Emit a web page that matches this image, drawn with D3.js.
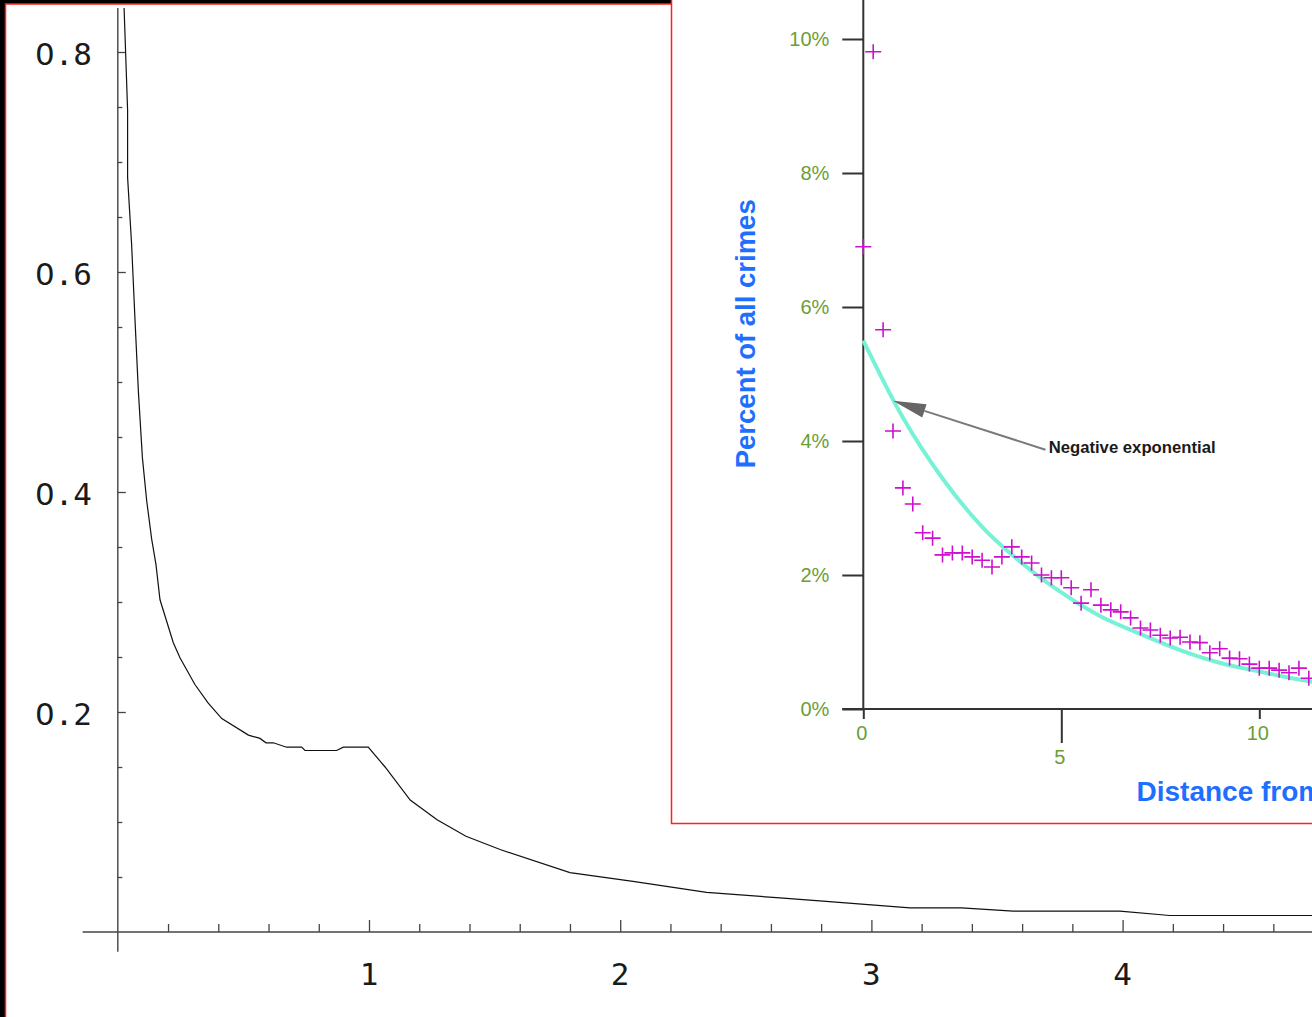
<!DOCTYPE html>
<html><head><meta charset="utf-8">
<script src="https://cdn.jsdelivr.net/npm/d3@7"></script>
<style>html,body{margin:0;padding:0;background:#000;overflow:hidden}</style>
</head><body>
<svg id="c" width="1312" height="1017"></svg>
<script>
// ---- main chart data ----
const mainDistance = [0.025,0.039,0.039,0.055,0.069,0.082,0.098,0.115,0.135,0.152,0.168,0.221,0.248,0.307,0.360,0.414,0.520,0.566,0.590,0.619,0.672,0.732,0.745,0.871,0.898,0.997,1.064,1.164,1.271,1.386,1.522,1.800,2.051,2.344,2.636,2.807,3.154,3.359,3.564,3.989,4.188,4.717,4.950];
const mainShare = [0.840,0.747,0.686,0.625,0.554,0.491,0.431,0.392,0.357,0.334,0.302,0.263,0.249,0.225,0.208,0.194,0.179,0.176,0.172,0.172,0.168,0.168,0.165,0.165,0.168,0.168,0.150,0.120,0.102,0.087,0.075,0.054,0.046,0.036,0.031,0.028,0.022,0.022,0.019,0.019,0.015,0.015,0.015];
const mainXTicks = [1,2,3,4];
const mainYTicks = [0.2,0.4,0.6,0.8];

// ---- inset chart data ----
const crimeDistance = [0,0.25,0.5,0.75,1,1.25,1.5,1.75,2,2.25,2.5,2.75,3,3.25,3.5,3.75,4,4.25,4.5,4.75,5,5.25,5.5,5.75,6,6.25,6.5,6.75,7,7.25,7.5,7.75,8,8.25,8.5,8.75,9,9.25,9.5,9.75,10,10.25,10.5,10.75,11,11.25];
const crimePercent = [6.90,9.81,5.66,4.15,3.30,3.06,2.63,2.55,2.30,2.33,2.33,2.27,2.22,2.12,2.27,2.42,2.27,2.18,2.00,1.96,1.96,1.81,1.58,1.78,1.55,1.48,1.45,1.36,1.21,1.18,1.10,1.06,1.07,1.00,0.99,0.84,0.90,0.76,0.75,0.67,0.61,0.61,0.58,0.54,0.61,0.46];
const fitDistance = [0,1,2,3,4,5,6,7,8,9,10,11,12];
const fitPercent = [5.50,4.35,3.44,2.72,2.18,1.74,1.38,1.12,0.88,0.69,0.56,0.44,0.35];
const insetYTicks = [0,2,4,6,8,10];
const insetXTicksEven = [0,10];
const insetXTicksOdd = [5];
const yTitle = "Percent of all crimes";
const xTitle = "Distance from";
const annotation = "Negative exponential";

const svg = d3.select('#c');
svg.append('rect').attr('width',1312).attr('height',1017).attr('fill','#000');

// ---- main panel ----
svg.append('rect').attr('x',5.5).attr('y',4).attr('width',1500).attr('height',1200)
  .attr('fill','#fff').attr('stroke','#ff2020').attr('stroke-width',1.5);

const xS = d3.scaleLinear().domain([0,5]).range([117.8,117.8+5*251.2]);
const yS = d3.scaleLinear().domain([0,0.8]).range([932,52]);
const axisCol = '#444';
const mainFont = '"DejaVu Sans Mono", monospace';
const zeroFont = '"DejaVu Sans", sans-serif';

const g = svg.append('g');
g.append('line').attr('x1',xS(0)).attr('x2',xS(0)).attr('y1',yS(0.84)).attr('y2',yS(-0.018))
  .attr('stroke',axisCol).attr('stroke-width',1.4);
g.append('line').attr('x1',xS(-0.14)).attr('x2',xS(5.3)).attr('y1',yS(0)).attr('y2',yS(0))
  .attr('stroke',axisCol).attr('stroke-width',1.4);

const yMinor = d3.range(1,17).map(i=>i*0.05).filter(v=>Math.abs(v*5-Math.round(v*5))>1e-6);
const xMinor = d3.range(1,26).map(i=>i*0.2).filter(v=>Math.abs(v-Math.round(v))>1e-6);

function styleAxis(sel){
  sel.select('.domain').remove();
  sel.selectAll('.tick line').attr('stroke',axisCol).attr('stroke-width',1.3);
  sel.selectAll('text').remove();
}
g.append('g').attr('transform',`translate(${xS(0)},0)`)
  .call(d3.axisRight(yS).tickValues(yMinor).tickSize(4.5)).call(styleAxis);
g.append('g').attr('transform',`translate(${xS(0)},0)`)
  .call(d3.axisRight(yS).tickValues(mainYTicks).tickSize(8)).call(styleAxis);
g.append('g').attr('transform',`translate(0,${yS(0)})`)
  .call(d3.axisTop(xS).tickValues(xMinor).tickSize(8)).call(styleAxis);
g.append('g').attr('transform',`translate(0,${yS(0)})`)
  .call(d3.axisTop(xS).tickValues(mainXTicks.concat([5])).tickSize(12)).call(styleAxis);

g.selectAll('text.yl').data(mainYTicks).join('text').attr('class','yl')
  .attr('x',92).attr('y',d=>yS(d)+13).attr('text-anchor','end')
  .attr('font-family',mainFont).attr('font-size',31).attr('fill','#1a1a1a')
  .each(function(d){
    const t = d3.select(this);
    for (const ch of d.toFixed(1)) {
      t.append('tspan').attr('font-family', ch==='0' ? zeroFont : mainFont).text(ch);
    }
  });
g.selectAll('text.xl').data(mainXTicks).join('text').attr('class','xl')
  .attr('x',d=>xS(d)).attr('y',985).attr('text-anchor','middle')
  .attr('font-family',mainFont).attr('font-size',31).attr('fill','#1a1a1a')
  .text(d=>d);

g.append('path').datum(d3.zip(mainDistance,mainShare))
  .attr('d',d3.line().x(d=>xS(d[0])).y(d=>yS(d[1])))
  .attr('fill','none').attr('stroke','#111').attr('stroke-width',1.2);

// ---- inset ----
svg.append('rect').attr('x',671.5).attr('y',-20).attr('width',800).attr('height',843.5)
  .attr('fill','#fff').attr('stroke','#ff2020').attr('stroke-width',1.5);

const xI = d3.scaleLinear().domain([0,15]).range([863.3,863.3+15*39.6]);
const yI = d3.scaleLinear().domain([0,10]).range([709,39]);
const green = '#6a9e36', blue = '#1f6fff', sans = '"Liberation Sans", Arial, sans-serif';
const ig = svg.append('g');

ig.append('line').attr('x1',xI(0)).attr('x2',xI(0)).attr('y1',yI(0)).attr('y2',yI(12))
  .attr('stroke','#333').attr('stroke-width',2);
ig.append('line').attr('x1',xI(0)-21).attr('x2',xI(15)).attr('y1',yI(0)).attr('y2',yI(0))
  .attr('stroke','#333').attr('stroke-width',2);

function styleInset(sel){
  sel.select('.domain').remove();
  sel.selectAll('.tick line').attr('stroke','#333').attr('stroke-width',2);
  sel.selectAll('.tick text').attr('fill',green).attr('font-family',sans).attr('font-size',20);
}
ig.append('g').attr('transform',`translate(${xI(0)},0)`)
  .call(d3.axisLeft(yI).tickValues(insetYTicks).tickSize(21).tickPadding(11).tickFormat(d=>d+'%'))
  .call(styleInset);
ig.append('g').attr('transform',`translate(0,${yI(0)})`)
  .call(d3.axisBottom(xI).tickValues(insetXTicksEven).tickSize(10).tickPadding(7).tickFormat(d=>d))
  .call(styleInset);
ig.append('g').attr('transform',`translate(0,${yI(0)})`)
  .call(d3.axisBottom(xI).tickValues(insetXTicksOdd).tickSize(34).tickPadding(7).tickFormat(d=>d))
  .call(styleInset);
ig.selectAll('.tick text').attr('dx',-2);

ig.append('path').datum(d3.zip(fitDistance,fitPercent))
  .attr('d',d3.line().curve(d3.curveMonotoneX).x(d=>xI(d[0])).y(d=>yI(d[1])))
  .attr('fill','none').attr('stroke','#78f2d6').attr('stroke-width',4);

ig.selectAll('path.pt').data(d3.zip(crimeDistance,crimePercent)).join('path').attr('class','pt')
  .attr('d',d=>{const x=xI(d[0]), y=yI(d[1]); return `M${x-8},${y}H${x+8}M${x},${y-7.5}V${y+7.5}`;})
  .attr('stroke','#cc11cc').attr('stroke-width',1.6).attr('fill','none');

ig.append('text').attr('transform',`translate(755,${yI(5.6)}) rotate(-90)`)
  .attr('text-anchor','middle').attr('font-family',sans).attr('font-weight','bold')
  .attr('font-size',27.5).attr('fill',blue).text(yTitle);
ig.append('text').attr('x',xI(6.9)).attr('y',801)
  .attr('font-family',sans).attr('font-weight','bold')
  .attr('font-size',28).attr('fill',blue).text(xTitle);

const tip = [xI(0.75), yI(4.6)];
const tail = [xI(4.6), yI(3.87)];
const dx = tail[0]-tip[0], dy = tail[1]-tip[1], L = Math.hypot(dx,dy);
const ux = dx/L, uy = dy/L, hl = 33, hw = 7;
const bx = tip[0]+ux*hl, by = tip[1]+uy*hl;
ig.append('line').attr('x1',bx).attr('y1',by).attr('x2',tail[0]).attr('y2',tail[1])
  .attr('stroke','#7a7a7a').attr('stroke-width',2);
ig.append('path')
  .attr('d',`M${tip[0]},${tip[1]}L${bx-uy*hw},${by+ux*hw}L${bx+uy*hw},${by-ux*hw}Z`)
  .attr('fill','#666');
ig.append('text').attr('x',xI(4.68)).attr('y',yI(3.82))
  .attr('font-family',sans).attr('font-weight','bold').attr('font-size',16.7)
  .attr('fill','#1a1a1a').text(annotation);
</script>
</body></html>
